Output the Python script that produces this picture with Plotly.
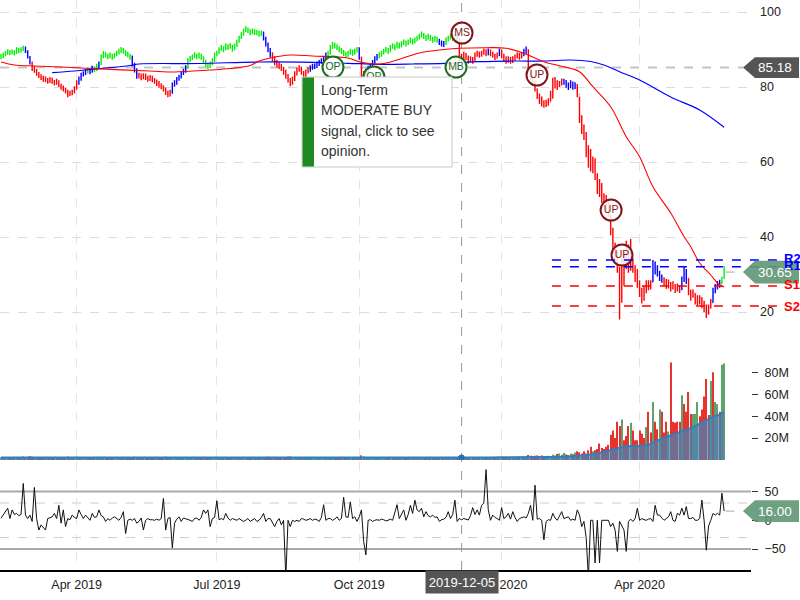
import numpy as np
import pandas as pd
import plotly.graph_objects as go

# ---------------------------------------------------------------- data
HOLIDAYS = ["2019-02-18", "2019-04-19", "2019-05-27", "2019-07-04", "2019-09-02",
            "2019-11-28", "2019-12-25", "2020-01-01", "2020-01-20", "2020-02-17",
            "2020-04-10", "2020-05-25"]
START, END = "2019-02-11", "2020-05-27"

close = [
    88.0, 88.5, 89.0, 89.5, 89.0, 89.5, 89.0, 90.0, 89.5, 90.0,
    90.5, 89.5, 88.0, 86.5, 85.0, 84.5, 83.5, 83.0, 82.5, 82.0,
    82.0, 81.5, 82.0, 81.5, 81.0, 81.5, 80.5, 80.0, 79.5, 79.0,
    78.0, 78.5, 78.5, 79.5, 81.0, 82.0, 83.0, 83.5, 84.0, 84.5,
    84.0, 85.0, 84.5, 85.5, 86.0, 88.0, 89.0, 88.5, 88.0, 88.5,
    88.0, 88.5, 89.0, 89.5, 90.0, 89.5, 89.0, 88.5, 88.0, 86.0,
    84.5, 83.0, 83.0, 82.5, 83.0, 82.5, 82.0, 82.5, 82.0, 81.5,
    81.0, 80.5, 80.0, 79.5, 78.5, 78.0, 78.5, 80.5, 81.0, 82.0,
    82.5, 83.5, 84.0, 85.0, 87.0, 87.5, 88.0, 88.5, 88.0, 88.5,
    88.0, 87.0, 86.0, 85.5, 86.0, 87.0, 88.5, 89.0, 90.0, 90.5,
    90.0, 91.0, 90.5, 91.0, 90.0, 91.0, 92.0, 93.0, 94.0, 95.0,
    95.5, 95.0, 94.5, 95.0, 94.5, 94.5, 94.0, 94.5, 93.0, 91.5,
    90.0, 88.5, 87.5, 86.5, 86.0, 85.5, 85.0, 84.0, 83.0, 82.0,
    81.0, 82.0, 83.5, 84.5, 85.0, 84.0, 83.0, 84.0, 84.5, 85.0,
    85.5, 85.5, 86.0, 86.5, 87.0, 87.5, 88.5, 89.0, 90.5, 91.5,
    91.0, 90.5, 90.0, 89.5, 89.0, 88.5, 89.0, 89.5, 89.0, 89.5,
    90.0, 88.0, 82.0, 83.5, 84.0, 85.0, 85.5, 86.5, 87.5, 88.0,
    88.5, 89.0, 89.5, 90.0, 89.5, 90.5, 91.0, 90.5, 91.5, 91.0,
    91.5, 92.0, 91.5, 92.0, 92.5, 92.0, 92.5, 93.0, 93.5, 94.0,
    93.5, 93.0, 93.5, 93.0, 92.5, 93.0, 92.5, 92.0, 91.5, 91.5,
    92.5, 93.0, 93.5, 93.0, 93.5, 93.0, 88.0, 87.5, 88.5, 88.0,
    87.0, 87.5, 87.0, 88.5, 89.0, 88.5, 89.0, 89.5, 89.0, 89.5,
    89.0, 88.5, 88.0, 88.5, 89.5, 88.5, 87.5, 87.0, 87.5, 87.0,
    87.5, 88.0, 88.5, 88.0, 88.5, 89.5, 90.0, 84.5, 82.5, 81.0,
    79.5, 77.5, 76.5, 75.5, 75.0, 75.5, 76.0, 77.0, 80.0, 81.5,
    80.5, 81.0, 81.5, 81.5, 80.5, 80.0, 81.0, 80.0, 80.5, 78.0,
    71.5, 69.0, 67.0, 63.0, 61.0, 59.5, 58.0, 56.5, 53.5, 52.0,
    50.5, 49.0, 48.0, 46.5, 41.5, 37.0, 34.5, 31.5, 23.0, 29.0,
    33.5, 35.0, 32.0, 34.0, 31.5, 29.0, 27.5, 25.0, 23.5, 26.0,
    27.5, 26.5, 28.0, 33.0, 31.0, 30.5, 29.0, 28.5, 28.0, 27.0,
    27.5, 26.5, 27.0, 26.0, 26.5, 26.0, 28.5, 31.0, 29.0, 25.5,
    24.5, 25.0, 23.5, 23.0, 23.5, 22.5, 21.5, 20.0, 21.0, 22.5,
    25.5, 26.5, 27.0, 27.5, 29.0, 30.65]

high = [
    88.8, 89.2, 89.6, 90.1, 89.9, 90.0, 89.8, 90.6, 90.4, 90.6,
    91.0, 90.8, 89.8, 88.3, 86.8, 85.6, 84.8, 84.0, 83.4, 83.0,
    82.8, 82.4, 82.7, 82.5, 81.9, 82.2, 81.8, 80.9, 80.4, 79.9,
    79.3, 79.0, 79.3, 80.2, 81.8, 82.8, 83.8, 84.2, 84.8, 85.3,
    84.9, 85.7, 85.4, 86.2, 86.8, 88.7, 89.6, 89.4, 88.9, 89.2,
    88.9, 89.1, 89.7, 90.2, 90.7, 90.4, 89.9, 89.4, 88.9, 88.4,
    86.5, 85.0, 83.8, 83.6, 83.7, 83.6, 83.0, 83.2, 83.0, 82.4,
    82.0, 81.6, 81.0, 80.5, 79.9, 79.0, 79.3, 81.2, 81.8, 82.7,
    83.3, 84.2, 84.9, 85.8, 87.7, 88.3, 88.7, 89.3, 88.9, 89.2,
    88.9, 88.2, 87.3, 86.4, 86.8, 87.7, 89.2, 89.7, 90.6, 91.2,
    90.9, 91.6, 91.4, 91.7, 91.3, 91.6, 92.6, 93.7, 94.6, 95.6,
    96.2, 95.9, 95.4, 95.6, 95.4, 95.2, 95.0, 95.1, 94.8, 93.4,
    91.9, 90.4, 89.3, 88.2, 87.2, 86.6, 86.2, 85.4, 84.6, 83.5,
    82.4, 82.8, 84.2, 85.2, 85.8, 85.4, 84.3, 84.7, 85.3, 85.8,
    86.2, 86.3, 86.8, 87.2, 87.7, 88.3, 89.2, 89.7, 91.2, 92.0,
    91.8, 91.4, 90.9, 90.4, 89.9, 89.4, 89.7, 90.2, 90.0, 90.3,
    90.7, 90.6, 88.0, 84.3, 84.9, 85.7, 86.3, 87.2, 88.2, 88.8,
    89.3, 89.7, 90.2, 90.7, 90.4, 91.2, 91.7, 91.4, 92.1, 91.9,
    92.2, 92.7, 92.4, 92.7, 93.2, 92.9, 93.2, 93.7, 94.2, 94.8,
    94.4, 93.9, 94.2, 93.9, 93.4, 93.7, 93.4, 92.9, 92.4, 92.3,
    93.2, 93.7, 94.2, 94.0, 94.2, 94.1, 93.0, 88.9, 89.4, 89.1,
    88.4, 88.2, 88.0, 89.2, 89.7, 89.5, 89.7, 90.3, 90.1, 90.3,
    90.0, 89.4, 88.9, 89.2, 90.3, 90.0, 88.9, 88.2, 88.2, 88.0,
    88.2, 88.7, 89.3, 89.1, 89.3, 90.2, 90.8, 90.0, 85.0, 83.0,
    81.5, 79.6, 78.3, 77.5, 76.5, 76.6, 77.0, 79.0, 82.5, 82.7,
    81.8, 81.6, 82.3, 82.2, 81.9, 81.2, 81.8, 81.5, 81.3, 80.8,
    77.5, 72.5, 70.0, 68.0, 64.5, 63.5, 61.5, 61.0, 57.0, 55.5,
    54.4, 51.7, 51.2, 49.5, 46.5, 42.5, 38.5, 36.5, 32.0, 34.5,
    36.0, 39.0, 38.0, 39.5, 34.5, 32.5, 31.5, 28.5, 26.5, 27.0,
    28.5, 28.5, 28.5, 33.9, 33.5, 32.5, 31.0, 30.0, 29.3, 28.8,
    28.7, 28.0, 28.2, 27.5, 27.6, 27.2, 29.5, 32.0, 31.5, 29.0,
    26.0, 26.0, 25.0, 24.5, 24.5, 24.0, 23.0, 22.0, 22.0, 23.5,
    26.5, 27.5, 28.3, 28.6, 29.4, 32.3]

low = [
    87.4, 87.7, 88.2, 88.6, 88.5, 88.7, 88.4, 88.8, 89.0, 89.2,
    89.6, 89.1, 87.6, 86.0, 84.3, 83.8, 83.0, 82.4, 81.9, 81.4,
    81.3, 80.9, 81.1, 80.9, 80.4, 80.6, 80.0, 79.3, 78.8, 78.3,
    77.3, 77.6, 77.8, 78.3, 79.3, 80.6, 81.7, 82.8, 83.2, 83.6,
    83.4, 83.8, 84.0, 84.3, 85.1, 85.9, 87.7, 87.9, 87.4, 87.7,
    87.3, 87.6, 88.2, 88.7, 89.1, 88.9, 88.3, 87.9, 87.3, 85.5,
    83.9, 82.2, 82.3, 81.8, 82.1, 81.9, 81.4, 81.6, 81.3, 80.9,
    80.3, 79.8, 79.4, 78.8, 77.9, 77.3, 77.5, 78.2, 80.1, 80.6,
    81.7, 82.3, 83.2, 83.8, 85.0, 86.7, 87.2, 87.7, 87.4, 87.6,
    87.3, 86.4, 85.4, 84.8, 85.1, 85.8, 86.7, 88.2, 88.8, 89.7,
    89.3, 89.8, 89.9, 90.2, 89.4, 89.8, 90.7, 91.8, 92.8, 93.7,
    94.7, 94.4, 93.8, 94.1, 93.9, 93.8, 93.4, 93.6, 92.4, 90.8,
    89.3, 87.9, 86.8, 85.8, 85.2, 84.8, 84.3, 83.3, 82.2, 81.2,
    80.2, 80.6, 81.6, 83.1, 84.1, 83.3, 82.3, 82.6, 83.6, 84.1,
    84.6, 84.8, 85.1, 85.6, 86.2, 86.6, 87.2, 88.1, 88.6, 90.2,
    90.3, 89.8, 89.3, 88.8, 88.3, 87.8, 88.1, 88.6, 88.3, 88.6,
    89.2, 87.3, 81.3, 81.6, 83.1, 83.6, 84.6, 85.2, 86.2, 87.1,
    87.7, 88.1, 88.7, 89.2, 88.8, 89.3, 90.2, 89.8, 90.3, 90.3,
    90.6, 91.2, 90.8, 91.2, 91.7, 91.3, 91.6, 92.2, 92.7, 93.2,
    92.8, 92.3, 92.6, 92.3, 91.8, 92.1, 91.8, 91.2, 90.8, 90.7,
    91.2, 92.2, 92.7, 92.3, 92.6, 92.2, 86.6, 86.5, 87.2, 87.2,
    86.2, 86.5, 86.2, 86.8, 88.1, 87.8, 88.1, 88.6, 88.2, 88.5,
    88.2, 87.8, 87.2, 87.6, 88.2, 87.7, 86.7, 86.2, 86.5, 86.2,
    86.4, 87.0, 87.6, 87.3, 87.6, 88.2, 88.9, 84.0, 81.8, 80.3,
    78.8, 76.8, 75.5, 74.8, 74.5, 74.7, 75.0, 76.2, 77.0, 79.6,
    79.2, 80.0, 80.4, 80.6, 79.8, 79.2, 79.7, 79.3, 79.5, 77.3,
    70.4, 67.5, 65.9, 61.3, 58.5, 57.5, 57.0, 55.2, 51.5, 50.7,
    49.1, 48.0, 47.0, 45.3, 40.5, 35.5, 33.0, 30.5, 18.0, 22.5,
    27.0, 31.5, 30.5, 31.0, 30.5, 28.0, 26.5, 24.0, 22.3, 23.0,
    25.0, 25.8, 26.0, 28.0, 30.0, 29.5, 28.3, 27.8, 27.0, 26.2,
    26.3, 25.5, 26.0, 25.1, 25.5, 25.1, 25.8, 28.0, 27.5, 24.5,
    23.0, 23.8, 22.0, 21.8, 22.0, 21.0, 20.0, 18.4, 19.3, 21.0,
    22.5, 25.0, 26.0, 26.5, 27.5, 28.9]

# bar colour state as runs: g = green, b = blue, r = red
state_runs = [("g", 11), ("b", 3), ("r", 21), ("b", 4), ("g", 1), ("b", 2), ("g", 2), ("b", 1),
              ("g", 14), ("b", 3), ("r", 15), ("b", 7), ("g", 34), ("b", 4), ("r", 17), ("b", 8),
              ("g", 14), ("b", 1), ("r", 2), ("b", 6), ("g", 27), ("b", 3), ("g", 5), ("b", 1),
              ("r", 13), ("b", 1), ("r", 4), ("b", 1), ("r", 10), ("b", 2), ("r", 16), ("b", 6),
              ("r", 34), ("b", 5), ("r", 8), ("b", 3), ("r", 11), ("b", 4), ("g", 2)]

volume_m = [
    2.4, 2.1, 2.6, 2.2, 1.9, 2.3, 2.8, 2.0, 2.5, 2.2,
    3.1, 2.7, 2.9, 3.4, 3.0, 2.6, 2.4, 2.2, 2.5, 2.1,
    2.0, 2.3, 1.9, 2.2, 2.4, 2.0, 2.6, 2.3, 2.7, 2.5,
    3.0, 2.4, 2.2, 2.6, 2.9, 2.5, 2.3, 2.1, 2.2, 2.0,
    2.3, 2.1, 1.9, 2.2, 2.4, 3.0, 2.6, 2.2, 2.0, 1.8,
    2.1, 1.9, 2.2, 2.0, 2.3, 2.1, 1.8, 2.0, 2.2, 2.7,
    2.9, 2.6, 2.3, 2.1, 2.0, 2.2, 2.4, 2.1, 2.0, 2.3,
    2.5, 2.2, 2.4, 2.6, 2.9, 2.7, 2.3, 2.5, 2.2, 2.1,
    2.0, 2.2, 2.1, 2.3, 2.8, 2.4, 2.1, 2.0, 1.9, 2.2,
    2.0, 2.3, 2.5, 2.2, 2.1, 2.0, 2.4, 2.2, 2.3, 2.1,
    2.0, 2.2, 1.9, 2.1, 2.3, 2.0, 2.4, 2.6, 2.3, 2.5,
    2.2, 2.1, 2.3, 2.0, 1.9, 2.1, 2.2, 2.0, 2.6, 2.8,
    3.0, 2.7, 2.5, 2.4, 2.6, 2.3, 2.2, 2.5, 2.7, 2.9,
    3.1, 2.6, 2.4, 2.2, 2.1, 2.3, 2.5, 2.2, 2.0, 2.1,
    2.0, 1.9, 2.2, 2.1, 2.0, 2.3, 2.4, 2.2, 2.5, 2.3,
    2.1, 2.0, 2.2, 1.9, 2.1, 2.0, 1.8, 2.1, 2.0, 2.2,
    2.3, 2.8, 4.2, 3.1, 2.6, 2.4, 2.2, 2.3, 2.1, 2.0,
    2.2, 2.1, 2.0, 2.3, 2.1, 2.2, 2.4, 2.0, 2.1, 2.3,
    2.2, 2.0, 2.1, 2.3, 2.2, 2.0, 1.9, 2.1, 2.4, 2.2,
    2.0, 2.1, 2.3, 2.0, 2.2, 2.1, 2.0, 2.4, 2.2, 2.1,
    2.3, 2.0, 2.2, 2.1, 2.0, 2.2, 3.5, 2.8, 2.5, 2.3,
    2.2, 2.4, 2.1, 2.3, 2.2, 2.0, 2.1, 2.3, 2.2, 2.4,
    2.3, 2.1, 2.2, 2.0, 2.4, 2.1, 2.5, 2.3, 2.6, 2.4,
    2.8, 2.5, 2.7, 3.0, 2.6, 2.9, 3.2, 4.5, 3.8, 3.4,
    3.9, 4.2, 3.6, 4.0, 3.5, 3.2, 3.8, 3.4, 4.8, 4.1,
    5.5, 6.0, 4.8, 6.5, 5.0, 4.5, 6.0, 5.2, 6.8, 8.0,
    7, 6, 8, 6, 9, 12, 8, 9, 10, 15,
    11, 10, 12, 14, 23, 27, 20, 35, 31, 37,
    18, 22, 31, 34, 27, 18, 18, 27, 24, 20,
    30, 44, 25, 53, 35, 28, 46, 44, 25, 35,
    26, 89, 35, 34, 35, 35, 59, 51, 44, 62,
    42, 42, 42, 53, 40, 46, 58, 74, 41, 72,
    80, 53, 51, 44, 87, 88]

# volume bar direction for the last 66 sessions (u = up, d = down);
# earlier sessions use close versus previous close
vol_dir_tail = ("dddddduddd" "dddddddddu" "dddudddddd" "uddudduddd"
                "uddddduddd" "duuudddddu" "duuduu")

osc = [
    3.5, 10, 15, 21, 3, 18, 10, 12, 8, 10,
    64, 9, 3, 9, -2, 57, 3, -17, -8, -12,
    -17, 3, 5, 6, 12, 3, 26, -5, 18, -11,
    3, 1, 9, 5, 3, 18, 10, 3, 9, 5,
    0, 12, 5, 6, 18, 8, 6, -2, 3, 0,
    4, 6, 3, 0, 5, 15, -23, 0, 2, 0,
    3, -5, -2, 4, -17, 0, 3, 1, 1, 0,
    2, 0, 3, 38, -17, 3, 5, -48, -5, 2,
    6, -2, 4, 3, 1, 0, -2, 3, 4, 0,
    5, 18, 12, 18, -11, 3, 5, 34, 1, 3,
    1, 12, 4, 0, 3, 2, 0, 3, 1, -2,
    0, 3, -2, 0, 3, -2, 0, 5, 12, -2,
    3, 3, -5, -11, -2, 3, -8, 0, -100, 0,
    -11, 0, -2, 0, -2, 3, 2, 0, 1, 3,
    0, 2, 1, -2, 5, 27, 0, 3, 3, 0,
    2, 6, 0, 3, 40, 6, 5, 32, 3, 6,
    -2, 6, 18, -37, -60, 0, 1, -2, 0, 1,
    0, 2, 1, -1, 0, 2, 0, 12, 27, 3,
    10, 18, 0, 10, 26, 12, 35, 18, 15, 21,
    6, 15, 8, 6, 9, 5, 6, -2, 1, 2,
    5, 15, 3, 10, 35, -2, 3, 1, 3, 2,
    0.5, 8, 22, 10, 18, 9, 26, 30, 88, 18,
    0, 9, 5, 3, 0, 22, 3, 6, 12, 2,
    15, 5, -2, 3, 5, 6, 4, 12, 26, 0,
    61, 2, 3, 0, -34, -2, 1, 0, 12, 4,
    0, 9, 15, 3, 5, 6, 0, 2, 0, 18,
    9, -11, -2, -30, -100, 0, 0, -74, 0, -74,
    0, 0, 0, 0, -11, -5, -17, -54, -2, -11,
    -17, -54, -2, 2, -2, 3, 21, 0, 3, 1,
    0, 2, 3, -2, 26, 9, 9, 4, 0, 3,
    6, 15, 0, -2, 12, 9, 21, 9, 24, 3,
    3, 5, 0, 0, 3, 35, 0, -52, -10, 0,
    12, 9, 12, 9, 47, 16]

# moving averages (trading-day index, value)
ma_fast_idx = [0, 6, 15, 27, 45, 67, 78, 94, 103, 112, 116, 121, 130, 140, 156, 161, 170, 178, 188,
               197, 206, 218, 227, 235, 244, 253, 260, 266, 274, 281, 287, 293, 301, 307, 310, 314,
               319, 323, 325]
ma_fast = [86.67, 85.87, 85.6, 85.33, 84.8, 84.27, 84.0, 84.53, 84.93, 85.73, 86.93, 87.73, 88.53,
           88.27, 87.73, 86.75, 86.13, 87.2, 89.07, 89.87, 90.32, 90.48, 90.32, 88.99, 86.75, 85.41,
           84.08, 80.08, 74.75, 66.75, 61.41, 53.41, 46.4, 40.08, 37.41, 33.07, 29.87, 27.2, 26.67]
ma_slow_idx = [23, 33, 45, 58, 62, 89, 116, 140, 156, 170, 185, 200, 215, 230, 245, 256, 265, 271,
               278, 287, 301, 314, 325]
ma_slow = [83.81, 84.27, 84.93, 85.73, 86.13, 86.27, 86.67, 86.59, 86.32, 86.05, 86.13, 86.32,
           86.75, 86.93, 86.93, 87.2, 86.8, 85.87, 84.08, 81.87, 77.33, 73.87, 69.25]
vol_ma_idx = [0, 100, 200, 225, 245, 255, 265, 273, 281, 290, 296, 304, 311, 319, 325]
vol_ma_m = [2.3, 2.3, 2.3, 2.4, 2.7, 3.2, 5.0, 8.5, 12.5, 13.5, 18.6, 24.7, 30.0, 38.5, 43.0]

# signal markers
sig_text = ["OP", "OP", "MB", "MS", "UP", "UP", "UP"]
sig_idx = [149.2, 167.6, 204.5, 207.2, 240.9, 274.2, 279.1]
sig_price = [85.33, 82.7, 85.33, 94.4, 83.2, 47.2, 35.2]
sig_side = ["buy", "buy", "buy", "sell", "sell", "sell", "sell"]

# support / resistance
level_names = ["R2", "R1", "S1", "S2"]
level_values = [33.87, 32.08, 26.93, 21.6]
level_start_idx = 247.6

cross_date = "2019-12-05"
cross_price = 85.18
tick_months = [(2019, 4), (2019, 7), (2019, 10), (2020, 1), (2020, 4)]
tick_text = ["Apr 2019", "Jul 2019", "Oct 2019", "Jan 2020", "Apr 2020"]
tooltip_lines = ["Long-Term", "MODERATE BUY", "signal, click to see", "opinion."]

# ---------------------------------------------------------------- derived
N = len(close)
dates = pd.bdate_range(START, END, freq="C", holidays=HOLIDAYS)[:N]
x = np.arange(N)
open_ = [close[0]] + close[:-1]
state = "".join(s * n for s, n in state_runs)
tickvals = [int(np.argmax(dates >= pd.Timestamp(y, m, 1))) for y, m in tick_months]
cross_idx = int(dates.get_loc(pd.Timestamp(cross_date)))
last_price = close[-1]
last_osc = osc[-1]

W, H = 751.0, 570.0           # plot area in px
PX_PER_DAY = 2.225
X0 = -0.45
X1 = X0 + W / PX_PER_DAY
P_LO, P_HI = 13.87, 103.2


def PX(px):
    return px / W


def PY(py):
    return (H - py) / H


BAR_COL = {"g": "#00ee00", "b": "#0000ff", "r": "#ff0000"}
SIG_COL = {"buy": "#1d6b1d", "sell": "#7d1818"}

fig = go.Figure()

# price bars
for s in ["r", "b", "g"]:
    idx = [i for i in range(N) if state[i] == s]
    fig.add_trace(go.Ohlc(
        x=idx, open=[open_[i] for i in idx], high=[high[i] for i in idx],
        low=[low[i] for i in idx], close=[close[i] for i in idx],
        increasing_line_color=BAR_COL[s], decreasing_line_color=BAR_COL[s],
        line_width=1.4, tickwidth=0.3, xaxis="x", yaxis="y", showlegend=False,
        hoverinfo="skip"))

fig.add_trace(go.Scatter(x=ma_slow_idx, y=ma_slow, mode="lines",
                         line=dict(color="#0000ff", width=1.2, shape="spline"),
                         xaxis="x", yaxis="y", showlegend=False, hoverinfo="skip"))
fig.add_trace(go.Scatter(x=ma_fast_idx, y=ma_fast, mode="lines",
                         line=dict(color="#ff0000", width=1.1, shape="spline"),
                         xaxis="x", yaxis="y", showlegend=False, hoverinfo="skip"))

sc = [SIG_COL[s] for s in sig_side]
fig.add_trace(go.Scatter(
    x=sig_idx, y=sig_price, mode="markers+text", text=sig_text,
    textposition="middle center", textfont=dict(size=10.5, color=sc, family="Liberation Sans"),
    marker=dict(size=21, color="rgba(255,255,255,0.85)", line=dict(color=sc, width=2)),
    xaxis="x", yaxis="y", showlegend=False, hoverinfo="skip"))

# volume
tail0 = N - len(vol_dir_tail)
vup = [close[i] >= open_[i] if i < tail0 else vol_dir_tail[i - tail0] == "u" for i in range(N)]
vcol = ["#5da36e" if u else "#e8322d" for u in vup]
fig.add_trace(go.Bar(x=x, y=volume_m, marker=dict(color=vcol, line=dict(width=0)), width=0.5,
                     xaxis="x2", yaxis="y2", showlegend=False, hoverinfo="skip"))
fig.add_trace(go.Scatter(x=vol_ma_idx, y=vol_ma_m, mode="lines", fill="tozeroy",
                         fillcolor="rgba(70,130,180,0.72)",
                         line=dict(color="#2f7fc1", width=2, shape="spline"),
                         xaxis="x2", yaxis="y2", showlegend=False, hoverinfo="skip"))
fig.add_trace(go.Scatter(x=[cross_idx], y=[float(np.interp(cross_idx, vol_ma_idx, vol_ma_m))],
                         mode="markers", marker=dict(size=6, color="#2a6db0"),
                         xaxis="x2", yaxis="y2", showlegend=False, hoverinfo="skip"))

# oscillator
fig.add_trace(go.Scatter(x=x, y=osc, mode="lines", line=dict(color="#111111", width=1),
                         xaxis="x3", yaxis="y3", showlegend=False, hoverinfo="skip"))

shapes = []
# oscillator bands
for v, dash, col, w in [(50, "solid", "#aaaaaa", 2), (-50, "solid", "#aaaaaa", 2),
                        (30, "dash", "#cccccc", 1), (-30, "dash", "#cccccc", 1)]:
    shapes.append(dict(type="line", xref="paper", x0=0, x1=1, yref="y3", y0=v, y1=v,
                       line=dict(color=col, width=w, dash=dash), layer="below"))
# crosshair
shapes.append(dict(type="line", xref="x", x0=cross_idx, x1=cross_idx, yref="paper", y0=0, y1=1,
                   line=dict(color="#999999", width=1, dash="dash"), layer="below"))
shapes.append(dict(type="line", xref="paper", x0=0, x1=PX(743), yref="y", y0=cross_price,
                   y1=cross_price, line=dict(color="#c4c4c4", width=2, dash="dash"), layer="below"))
# support / resistance
x_lvl0 = (level_start_idx - X0) / (X1 - X0)
for name, v in zip(level_names, level_values):
    col = "#0000ff" if name.startswith("R") else "#ff0000"
    shapes.append(dict(type="line", xref="paper", x0=x_lvl0, x1=PX(778), yref="y", y0=v, y1=v,
                       line=dict(color=col, width=1.5, dash="dash"), layer="above"))
# connectors to last value tags
x_last = (N - 1 - X0) / (X1 - X0)
shapes.append(dict(type="line", xref="paper", x0=x_last + 0.002, x1=PX(745), yref="y",
                   y0=last_price, y1=last_price, line=dict(color="#aaaaaa", width=1, dash="dash")))
shapes.append(dict(type="line", xref="paper", x0=x_last + 0.002, x1=PX(745), yref="y3",
                   y0=last_osc, y1=last_osc, line=dict(color="#aaaaaa", width=1, dash="dash")))


def tag(yref, yc, half, color):
    p = (f"M {PX(743)},{yc} L {PX(755)},{yc + half} L {PX(799)},{yc + half} "
         f"L {PX(799)},{yc - half} L {PX(755)},{yc - half} Z")
    return dict(type="path", xref="paper", yref=yref, path=p, fillcolor=color,
                line=dict(width=0), layer="above")


shapes.append(tag("y", cross_price, 2.75, "#555555"))
shapes.append(tag("y", last_price, 3.05, "rgba(98,152,118,0.92)"))
shapes.append(tag("y3", last_osc, 19.0, "rgba(98,152,118,0.92)"))

# tooltip box
shapes.append(dict(type="rect", xref="paper", yref="paper", x0=PX(302), x1=PX(452),
                   y0=PY(167), y1=PY(77), fillcolor="white",
                   line=dict(color="#c8c8c8", width=1), layer="above"))
shapes.append(dict(type="rect", xref="paper", yref="paper", x0=PX(302.5), x1=PX(314),
                   y0=PY(166.5), y1=PY(77.5), fillcolor="#1f8a22", line=dict(width=0),
                   layer="above"))

ann = []
for name, v in zip(level_names, level_values):
    col = "#0000ff" if name.startswith("R") else "#ff0000"
    shift = {"R2": 2, "R1": 1, "S1": 2, "S2": 0}[name]
    ann.append(dict(xref="paper", yref="y", x=PX(782), y=v, yshift=shift, text=f"<b>{name}</b>",
                    showarrow=False, xanchor="left", yanchor="middle",
                    font=dict(size=13, color=col)))
for yref, v, txt in [("y", cross_price, f"{cross_price:.2f}"), ("y", last_price, f"{last_price:.2f}"),
                     ("y3", last_osc, f"{last_osc:.2f}")]:
    ann.append(dict(xref="paper", yref=yref, x=PX(775), y=v, text=txt, showarrow=False,
                    xanchor="center", yanchor="middle", font=dict(size=13.5, color="white")))
for k, line in enumerate(tooltip_lines):
    ann.append(dict(xref="paper", yref="paper", x=PX(319), y=PY(90 + k * 20.4), text=line,
                    showarrow=False, xanchor="left", yanchor="middle",
                    font=dict(size=14, color="#333333")))
ann.append(dict(xref="x", yref="paper", x=cross_idx, y=PY(581.5), text=cross_date, showarrow=False,
                xanchor="center", yanchor="middle", bgcolor="#555555", width=68, height=18,
                borderpad=2, font=dict(size=13, color="white")))

xcommon = dict(range=[X0, X1], tickvals=tickvals, ticktext=tick_text, showgrid=True,
               gridcolor="#e4e4e4", griddash="dash", gridwidth=1, zeroline=False, domain=[0, 1])

fig.update_layout(
    width=800, height=600, template="none",
    margin=dict(l=0, r=49, t=0, b=30, autoexpand=False),
    paper_bgcolor="white", plot_bgcolor="white",
    font=dict(family="Liberation Sans, Arial, sans-serif", size=12, color="#222222"),
    showlegend=False, dragmode=False,
    xaxis=dict(**xcommon, anchor="y", showticklabels=False, rangeslider=dict(visible=False)),
    xaxis2=dict(**xcommon, anchor="y2", matches="x", showticklabels=False),
    xaxis3=dict(**xcommon, anchor="y3", matches="x", showticklabels=True, showline=True,
                linecolor="#000000", linewidth=1.5, ticks="", ticklabelstandoff=2,
                tickfont=dict(size=12.5, color="#222222")),
    yaxis=dict(domain=[PY(335), 1], range=[P_LO, P_HI], side="right", anchor="x",
               tickvals=[20, 40, 60, 80, 100], showgrid=True, gridcolor="#dddddd", griddash="dash",
               zeroline=False, ticks="", ticklabelstandoff=8, tickfont=dict(size=12.5)),
    yaxis2=dict(domain=[PY(460), PY(340)], range=[0, 109.5], side="right", anchor="x2",
                tickvals=[20, 40, 60, 80], ticktext=["20M", "40M", "60M", "80M"],
                showgrid=False, zeroline=False, ticks="outside", ticklen=6, tickcolor="#333333",
                ticklabelstandoff=4, tickfont=dict(size=12.5)),
    yaxis3=dict(domain=[0, PY(462)], range=[-86.3, 101.2], side="right", anchor="x3",
                tickvals=[-50, 0, 50], showgrid=False, zeroline=False, ticks="outside", ticklen=6,
                tickcolor="#333333", ticklabelstandoff=4, tickfont=dict(size=12.5)),
    shapes=shapes, annotations=ann,
)

fig.write_html("out.html")
